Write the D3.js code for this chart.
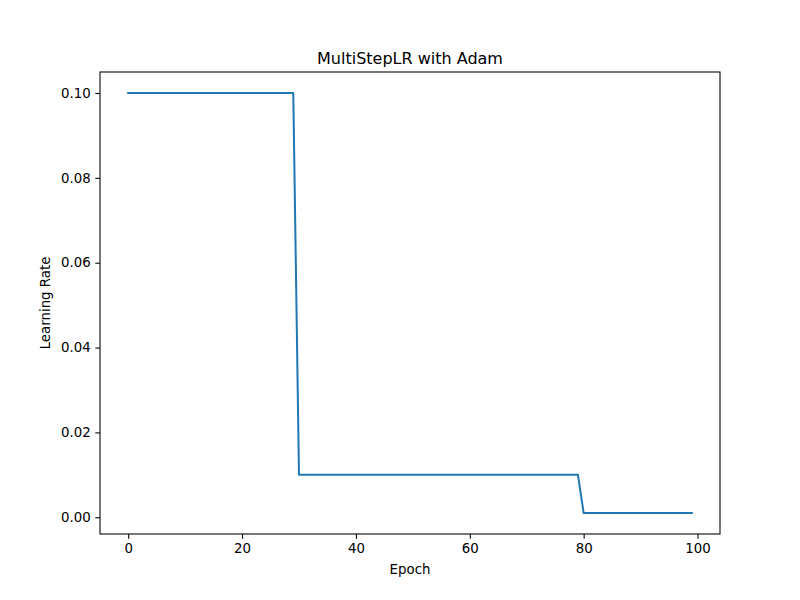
<!DOCTYPE html>
<html><head><meta charset="utf-8">
<script src="https://cdn.jsdelivr.net/npm/d3@7"></script>
<style>body{margin:0;background:#fff}svg{display:block;font-family:"DejaVu Sans",sans-serif}</style>
</head><body>
<svg id="c" width="800" height="600"></svg>
<script>
const title = "MultiStepLR with Adam";
const xLabel = "Epoch";
const yLabel = "Learning Rate";
const epochs = [0,1,2,3,4,5,6,7,8,9,10,11,12,13,14,15,16,17,18,19,20,21,22,23,24,25,26,27,28,29,30,31,32,33,34,35,36,37,38,39,40,41,42,43,44,45,46,47,48,49,50,51,52,53,54,55,56,57,58,59,60,61,62,63,64,65,66,67,68,69,70,71,72,73,74,75,76,77,78,79,80,81,82,83,84,85,86,87,88,89,90,91,92,93,94,95,96,97,98,99];
const lr = [0.1,0.1,0.1,0.1,0.1,0.1,0.1,0.1,0.1,0.1,0.1,0.1,0.1,0.1,0.1,0.1,0.1,0.1,0.1,0.1,0.1,0.1,0.1,0.1,0.1,0.1,0.1,0.1,0.1,0.1,
0.01,0.01,0.01,0.01,0.01,0.01,0.01,0.01,0.01,0.01,0.01,0.01,0.01,0.01,0.01,0.01,0.01,0.01,0.01,0.01,0.01,0.01,0.01,0.01,0.01,0.01,0.01,0.01,0.01,0.01,0.01,0.01,0.01,0.01,0.01,0.01,0.01,0.01,0.01,0.01,0.01,0.01,0.01,0.01,0.01,0.01,0.01,0.01,0.01,0.01,
0.001,0.001,0.001,0.001,0.001,0.001,0.001,0.001,0.001,0.001,0.001,0.001,0.001,0.001,0.001,0.001,0.001,0.001,0.001,0.001];
const xTicks = [0,20,40,60,80,100];
const yTicks = [0,0.02,0.04,0.06,0.08,0.10];

const svg = d3.select("#c");
const L=100,R=720,T=72,B=534;
const xmin=d3.min(epochs), xmax=d3.max(epochs), xm=(xmax-xmin)*0.05;
const ymin=d3.min(lr), ymax=d3.max(lr), ym=(ymax-ymin)*0.05;
const x=d3.scaleLinear().domain([xmin-xm,xmax+xm]).range([L,R]);
const y=d3.scaleLinear().domain([ymin-ym,ymax+ym]).range([B,T]);

const line=d3.line().x((d,i)=>x(epochs[i])).y(d=>y(d));
svg.append("path").datum(lr).attr("d",line).attr("fill","none")
  .attr("stroke","#1f77b4").attr("stroke-width",2).attr("stroke-linecap","square").attr("stroke-linejoin","round");

const xa=svg.append("g").attr("transform",`translate(0,${B})`)
  .call(d3.axisBottom(x).tickValues(xTicks).tickSize(4.67).tickPadding(4.67).tickFormat(d3.format("d")));
const ya=svg.append("g").attr("transform",`translate(${L},0)`)
  .call(d3.axisLeft(y).tickValues(yTicks).tickSize(4.67).tickPadding(4.67).tickFormat(d3.format(".2f")));
[xa,ya].forEach(a=>{a.select(".domain").remove();a.selectAll("line").attr("stroke","#000").attr("stroke-width",1.07);
  a.selectAll("text").attr("font-size","13.33px").attr("font-family","DejaVu Sans").attr("fill","#000");});

svg.append("rect").attr("x",L).attr("y",T).attr("width",R-L).attr("height",B-T)
  .attr("fill","none").attr("stroke","#000").attr("stroke-width",1.07);

svg.append("text").attr("x",(L+R)/2).attr("y",T-8).attr("text-anchor","middle")
  .attr("font-size","16px").text(title);
svg.append("text").attr("x",(L+R)/2).attr("y",574).attr("text-anchor","middle")
  .attr("font-size","13.33px").text(xLabel);
svg.append("text").attr("transform",`translate(50,${(T+B)/2}) rotate(-90)`).attr("text-anchor","middle")
  .attr("font-size","13.33px").text(yLabel);
</script>
</body></html>
